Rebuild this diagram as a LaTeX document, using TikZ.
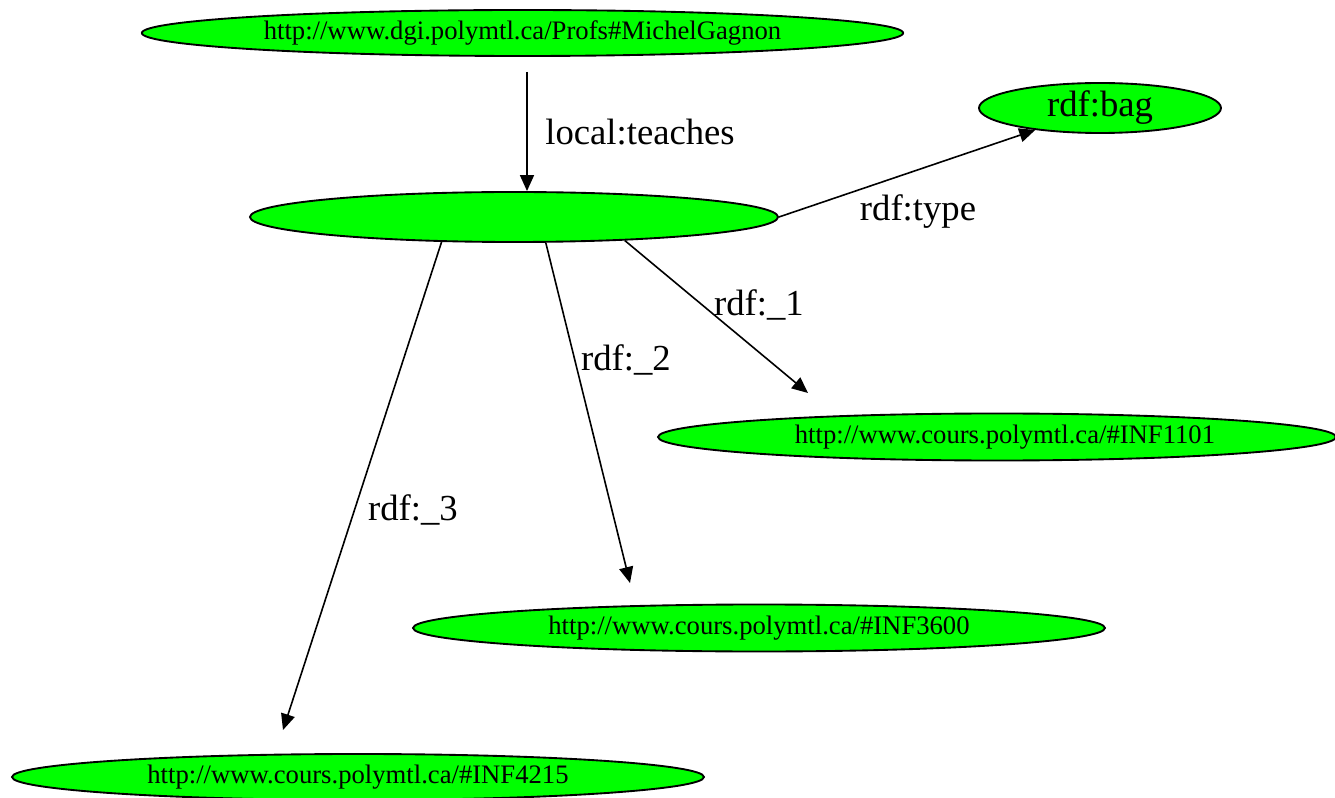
\documentclass[tikz,border=0pt]{standalone}
\usepackage{fontspec}
\setmainfont{Liberation Serif}
\usetikzlibrary{shapes.geometric,arrows.meta}
\definecolor{nodegreen}{HTML}{00FF00}
\begin{document}
\begin{tikzpicture}[x=0.75pt,y=-0.75pt,
  res/.style={ellipse,draw=black,line width=1.4pt,fill=nodegreen,inner sep=0pt,
    font=\fontsize{20}{22}\selectfont},
  edge/.style={line width=1.2pt,-{Triangle[length=12pt,width=10.5pt]}},
  lbl/.style={inner sep=0pt,font=\fontsize{27.5}{30}\selectfont}]
\useasboundingbox (0,0) rectangle (1335,798);
\node[res,minimum width=571pt,minimum height=34.5pt] (top) at (522.5,33) {http://www.dgi.polymtl.ca/Profs\#MichelGagnon};
\node[res,minimum width=396pt,minimum height=37.5pt] (mid) at (514,217) {};
\node[res,minimum width=181.5pt,minimum height=37.5pt,font=\fontsize{27.5}{30}\selectfont] (bag) at (1100,108) {rdf:bag};
\node[res,minimum width=508.5pt,minimum height=35.25pt] (c1101) at (997,437) {\hspace*{12pt}http://www.cours.polymtl.ca/\#INF1101};
\node[res,minimum width=519pt,minimum height=35.25pt] (c3600) at (759,628) {http://www.cours.polymtl.ca/\#INF3600};
\node[res,minimum width=519pt,minimum height=34.5pt] (c4215) at (358,777) {http://www.cours.polymtl.ca/\#INF4215};
\coordinate (s0) at (527,72);
\coordinate (e1) at (808,393);
\coordinate (e2) at (630,583);
\coordinate (e3) at (283,730);
\draw[edge] (s0) -- (s0 |- mid.north);
\draw[edge] (mid.east) -- (bag);
\draw[edge] (mid.-12) -- (e1);
\draw[edge] (mid.-39) -- (e2);
\draw[edge] (mid.-161) -- (e3);
\node[lbl] (l0) at (640,132) {local:teaches};
\node[lbl] (lt) at (918,212) {rdf:type};
\node[lbl] (l1) at (759,305) {rdf:\_1};
\node[lbl] (l2) at (626,360) {rdf:\_2};
\node[lbl] (l3) at (413,510) {rdf:\_3};
\end{tikzpicture}
\end{document}
